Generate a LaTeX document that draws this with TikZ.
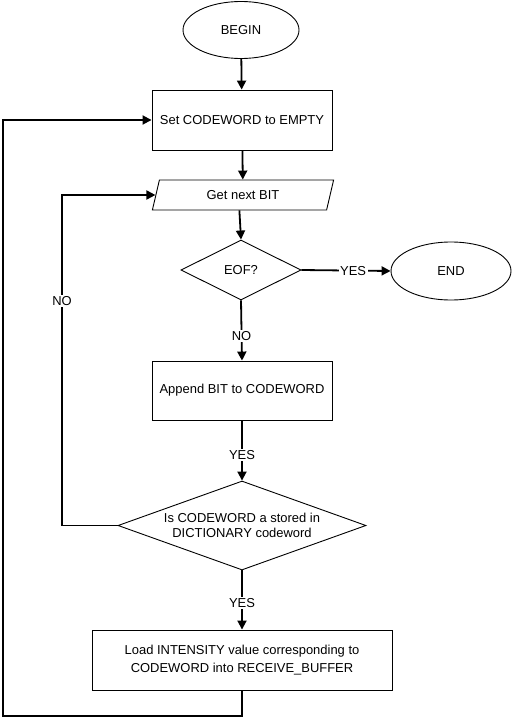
\documentclass[tikz,border=0pt]{standalone}
\usepackage{fontspec}
\setmainfont{Liberation Sans}
\usetikzlibrary{shapes.geometric,arrows.meta}
\tikzset{
  base/.style={draw=black, line width=0.9bp, font=\fontsize{13}{16}\selectfont, align=center, inner sep=0pt},
  term/.style={base, ellipse},
  proc/.style={base, rectangle},
  io/.style={base, trapezium, trapezium left angle=71.6, trapezium right angle=108.4, trapezium stretches=true},
  dec/.style={base, diamond},
  txt/.style={font=\fontsize{13}{15.5}\selectfont, align=center, inner sep=0pt},
  conn/.style={line width=1.8bp, -{Triangle[length=9bp,width=9bp]}},
  lbl/.style={fill=white, inner sep=1.5bp, font=\fontsize{13}{16}\selectfont}
}
\begin{document}
\begin{tikzpicture}[x=1bp,y=-1bp]
\useasboundingbox[fill=white] (0,0) rectangle (512,723);
\node[term, minimum width=116bp, minimum height=57bp] (begin) at (241,30) {BEGIN};
\node[proc, minimum width=180bp, minimum height=60bp] (set) at (242,120) {Set CODEWORD to EMPTY};
\node[io, minimum width=182bp, minimum height=30bp] (get) at (243,195) {Get next BIT};
\node[dec, minimum width=120bp, minimum height=60bp] (eof) at (241,270) {EOF?};
\node[term, minimum width=120bp, minimum height=58bp] (end) at (451,271) {END};
\node[proc, minimum width=180bp, minimum height=59bp] (app) at (242,390.5) {Append BIT to CODEWORD};
\node[dec, minimum width=248bp, minimum height=89bp] (dict) at (242,525.5) {};
\node[txt] (dicttext) at (dict.center) {Is CODEWORD a stored in\\DICTIONARY codeword};
\node[proc, minimum width=300bp, minimum height=60bp, font=\fontsize{13}{18}\selectfont] (load) at (242,660) {Load INTENSITY value corresponding to\\CODEWORD into RECEIVE\_BUFFER};

\coordinate (k1) at (62,525.5);
\coordinate (k2) at (62,195);
\coordinate (k3) at (242,716);
\coordinate (k4) at (3,716);
\coordinate (k5) at (3,120);

\draw[conn] (begin) -- (set);
\draw[conn] (set) -- (get);
\draw[conn] (get.bottom side) -- (eof.north);
\draw[conn] (eof.east) -- node[lbl, pos=0.58] {YES} (end.west);
\draw[conn] (eof.south) -- node[lbl, pos=0.59] {NO} (app.north);
\draw[conn] (app.south) -- node[lbl, pos=0.57] {YES} (dict.north);
\draw[conn] (dict.south) -- node[lbl, pos=0.55] {YES} (load.north);
\draw[conn] (dict.west) -- (k1) -- node[lbl, pos=0.68] {NO} (k2) -- (get.left side);
\draw[conn] (load.south) -- (k3) -- (k4) -- (k5) -- (set.west);
\end{tikzpicture}
\end{document}
